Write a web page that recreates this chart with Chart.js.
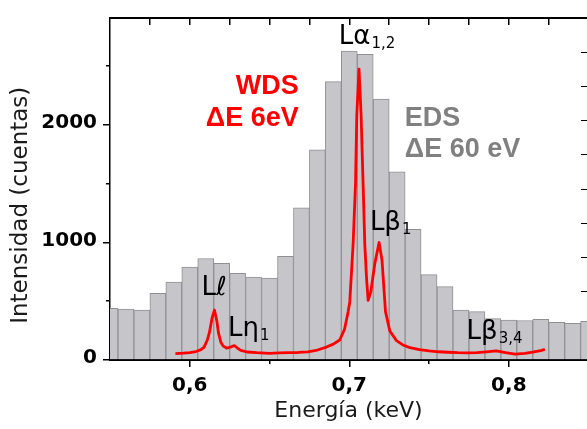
<!DOCTYPE html>
<html>
<head>
<meta charset="utf-8">
<script src="https://cdn.jsdelivr.net/npm/chart.js@4/dist/chart.umd.min.js"></script>
<style>
  html, body { margin: 0; padding: 0; background: #fff; }
</style>
</head>
<body>
<canvas id="myChart" width="587" height="429"></canvas>
<script>
'use strict'

// EDS histogram (grey bars), one bin every 0.01 keV
const edsEnergy = [0.55, 0.56, 0.57, 0.58, 0.59, 0.60, 0.61, 0.62, 0.63, 0.64, 0.65,
                   0.66, 0.67, 0.68, 0.69, 0.70, 0.71, 0.72, 0.73, 0.74, 0.75,
                   0.76, 0.77, 0.78, 0.79, 0.80, 0.81, 0.82, 0.83, 0.84, 0.85];
const edsCounts = [439, 433, 425, 568, 664, 790, 864, 823, 738, 705, 697,
                   883, 1295, 1789, 2368, 2628, 2601, 2220, 1602, 1112, 727,
                   624, 425, 412, 352, 340, 336, 345, 321, 312, 330];

// WDS spectrum (red trace)
const wdsEnergy = [0.591, 0.596, 0.600, 0.604, 0.607, 0.609, 0.611, 0.6125, 0.614, 0.6155,
                   0.617, 0.618, 0.6195, 0.621, 0.623, 0.6255, 0.628, 0.630, 0.632, 0.636,
                   0.642, 0.650, 0.656, 0.662, 0.668, 0.674, 0.680, 0.6857, 0.690, 0.694,
                   0.697, 0.6993, 0.7003, 0.7024, 0.7039, 0.7047, 0.7061, 0.7074, 0.7087, 0.7097,
                   0.7108, 0.7118, 0.7135, 0.7160, 0.7187, 0.7205, 0.7227, 0.7254, 0.7296, 0.734,
                   0.738, 0.744, 0.750, 0.756, 0.762, 0.768, 0.774, 0.780, 0.786, 0.792,
                   0.798, 0.804, 0.810, 0.815, 0.820, 0.8226];
const wdsCounts = [55, 58, 62, 72, 88, 110, 170, 245, 360, 425,
                   330, 230, 150, 118, 102, 110, 123, 100, 82, 68,
                   62, 57, 60, 63, 64, 70, 85, 110, 135, 170,
                   260, 412, 494, 988, 1500, 2085, 2475, 2085, 1481, 988,
                   700, 508, 580, 820, 1001, 850, 412, 247, 165, 125,
                   105, 88, 78, 70, 66, 62, 60, 62, 70, 78,
                   62, 50, 56, 68, 80, 90];

// axis ticks
const xTicks = [0.6, 0.7, 0.8];
const xMinorTicks = [0.65, 0.75];
const xTopTicks = [0.575, 0.6, 0.625, 0.65, 0.675, 0.7, 0.725, 0.75, 0.775, 0.8, 0.825];
const yTicks = [0, 1000, 2000];
const yMinorTicks = [500, 1500, 2500];

// line labels (main text + subscript), placed in data units
const peakNames  = ['L\u2113', 'L\u03b7', 'L\u03b1', 'L\u03b2', 'L\u03b2'];
const peakSubs   = ['', '1', '1,2', '1', '3,4'];
const peakEnergy = [0.6073, 0.6240, 0.6934, 0.7129, 0.7735];
const peakHeight = [551, 206, 2691, 1103, 181];

// captions
const wdsCaption = ['WDS', '\u0394E 6eV'];
const wdsCapEnergy = 0.6683;
const wdsCapHeight = [2263, 1992];
const edsCaption = ['EDS', '\u0394E 60 eV'];
const edsCapEnergy = 0.7348;
const edsCapHeight = [1992, 1728];

const yTitle = 'Intensidad (cuentas)';
const yTitleHeight = 1317;

const xMin = 0.55;
const xMax = 0.849;
const yMax = 2910;

const tickFont = { family: 'DejaVu Sans', weight: 'bold', size: 20 };

function setTicks(values){
    return function(scale){
        scale.ticks = values.map(v => ({ value: v }));
    };
}

// draws the peak names, the two captions and the y title
const labelsPlugin = {
    id: 'peakLabels',
    afterDatasetsDraw(chart) {
        const ctx = chart.ctx;
        const xs = chart.scales.x;
        const ys = chart.scales.y;
        ctx.save();
        ctx.textBaseline = 'alphabetic';

        for (let i = 0; i < peakNames.length; i++) {
            let px = xs.getPixelForValue(peakEnergy[i]);
            let py = ys.getPixelForValue(peakHeight[i]);
            ctx.fillStyle = '#000';
            ctx.textAlign = 'left';
            ctx.font = '26px "DejaVu Sans"';
            ctx.fillText(peakNames[i], px, py);
            let w = ctx.measureText(peakNames[i]).width;
            ctx.font = '15px "DejaVu Sans"';
            ctx.fillText(peakSubs[i], px + w + 1, py + 4);
        }

        ctx.font = 'bold 27px "Liberation Sans"';
        ctx.fillStyle = '#ff0000';
        ctx.textAlign = 'right';
        wdsCaption.forEach((t, i) => {
            ctx.fillText(t, xs.getPixelForValue(wdsCapEnergy), ys.getPixelForValue(wdsCapHeight[i]));
        });

        ctx.fillStyle = '#808080';
        ctx.textAlign = 'left';
        edsCaption.forEach((t, i) => {
            ctx.fillText(t, xs.getPixelForValue(edsCapEnergy), ys.getPixelForValue(edsCapHeight[i]));
        });

        // rotated y title
        ctx.translate(21, ys.getPixelForValue(yTitleHeight));
        ctx.rotate(-Math.PI / 2);
        ctx.font = '23px "DejaVu Sans"';
        ctx.fillStyle = '#1a1a1a';
        ctx.textAlign = 'center';
        ctx.textBaseline = 'middle';
        ctx.fillText(yTitle, 0, 0);
        ctx.restore();
    }
};

const config = {
    type: 'bar',
    data: {
        datasets: [
            {
                type: 'line',
                label: 'WDS',
                data: wdsEnergy.map((e, i) => ({ x: e, y: wdsCounts[i] })),
                borderColor: '#ff0000',
                borderWidth: 2.8,
                pointRadius: 0,
                tension: 0,
                borderJoinStyle: 'round',
                order: 0
            },
            {
                type: 'bar',
                label: 'EDS',
                data: edsEnergy.map((e, i) => ({ x: e, y: edsCounts[i] })),
                backgroundColor: '#c6c5ca',
                borderColor: '#909094',
                borderWidth: 1,
                barPercentage: 1,
                categoryPercentage: 1,
                order: 1
            }
        ]
    },
    options: {
        responsive: false,
        animation: false,
        events: [],
        layout: { padding: { top: 6, left: 0, right: 0, bottom: 0 } },
        plugins: {
            legend: { display: false },
            tooltip: { enabled: false }
        },
        scales: {
            x: {
                type: 'linear', position: 'bottom', min: xMin, max: xMax, weight: 1, offset: false,
                ticks: {
                    padding: 7, color: '#000', font: tickFont, maxRotation: 0, autoSkip: false,
                    callback: v => v.toFixed(1).replace('.', ',')
                },
                afterBuildTicks: setTicks(xTicks),
                grid: { offset: false, drawOnChartArea: false, tickLength: 7, color: '#000', lineWidth: 1.5 },
                border: { color: '#000', width: 2 },
                title: {
                    display: true, text: 'Energía (keV)', color: '#1a1a1a',
                    font: { family: 'DejaVu Sans', size: 22 },
                    padding: { top: 0, bottom: 5 }
                },
                afterFit: s => { s.height = 69; }
            },
            xMinor: {
                type: 'linear', position: 'bottom', min: xMin, max: xMax, weight: 0, offset: false,
                ticks: { display: false },
                afterBuildTicks: setTicks(xMinorTicks),
                grid: { offset: false, drawOnChartArea: false, tickLength: 4, color: '#000', lineWidth: 1.5 },
                border: { display: false },
                afterFit: s => { s.height = 0; }
            },
            x2: {
                type: 'linear', position: 'top', min: xMin, max: xMax, offset: false,
                ticks: { display: false },
                afterBuildTicks: setTicks(xTopTicks),
                grid: { offset: false, drawOnChartArea: false, tickLength: -7, color: '#000', lineWidth: 1.5 },
                border: { color: '#000', width: 2 },
                afterFit: s => { s.height = 0; }
            },
            y: {
                type: 'linear', position: 'left', min: 0, max: yMax, weight: 1,
                ticks: { padding: 6, labelOffset: -2, color: '#000', font: tickFont, callback: v => String(v) },
                afterBuildTicks: setTicks(yTicks),
                grid: { drawOnChartArea: false, tickLength: 7, color: '#000', lineWidth: 1.5 },
                border: { color: '#000', width: 1.5 },
                afterFit: s => { s.width = 110; }
            },
            yMinor: {
                type: 'linear', position: 'left', min: 0, max: yMax, weight: 0,
                ticks: { display: false },
                afterBuildTicks: setTicks(yMinorTicks),
                grid: { drawOnChartArea: false, tickLength: 4, color: '#000', lineWidth: 1.5 },
                border: { display: false },
                afterFit: s => { s.width = 0; }
            },
            // tick marks of the neighbouring panel on the right edge
            y2: {
                type: 'linear', position: 'right', min: 0, max: 10,
                ticks: { display: false, stepSize: 1 },
                grid: { drawOnChartArea: false, tickLength: -6, color: '#000', lineWidth: 1 },
                border: { display: false },
                afterFit: s => { s.width = 0; }
            }
        }
    },
    plugins: [labelsPlugin]
};

let myChart = new Chart(document.getElementById('myChart'), config);
</script>
</body>
</html>
